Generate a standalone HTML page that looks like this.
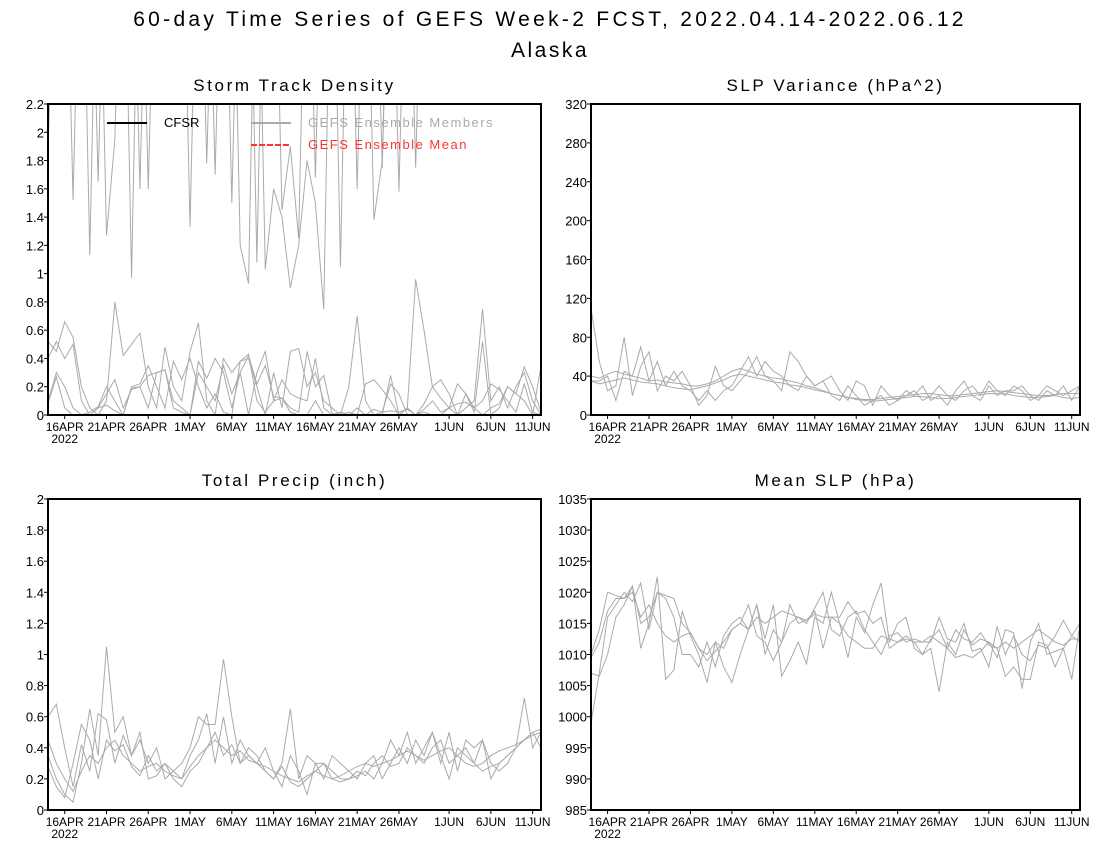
<!DOCTYPE html>
<html><head><meta charset="utf-8"><style>
body{margin:0;background:#fff;}
svg{display:block;font-family:"Liberation Sans",sans-serif;}
</style></head><body>
<svg id="chart" width="1100" height="850" xmlns="http://www.w3.org/2000/svg">
<text x="550" y="26" text-anchor="middle" font-size="21" letter-spacing="3.3">60-day Time Series of GEFS Week-2 FCST, 2022.04.14-2022.06.12</text>
<text x="550" y="57" text-anchor="middle" font-size="21" letter-spacing="2.5">Alaska</text>
</svg>
<script>
const dayLabels=["16APR","21APR","26APR","1MAY","6MAY","11MAY","16MAY","21MAY","26MAY","1JUN","6JUN","11JUN"];
const dayIdx=[2,7,12,17,22,27,32,37,42,48,53,58];
const stormTicks=[0,0.2,0.4,0.6,0.8,1,1.2,1.4,1.6,1.8,2,2.2];
const slpVarTicks=[0,40,80,120,160,200,240,280,320];
const precipTicks=[0,0.2,0.4,0.6,0.8,1,1.2,1.4,1.6,1.8,2];
const slpTicks=[985,990,995,1000,1005,1010,1015,1020,1025,1030,1035];
const storm1=[0.52,0.45,0.66,0.55,0.2,0.05,0,0.1,0.8,0.42,0.5,0.58,0.2,0.05,0.48,0.2,0.1,0.45,0.65,0.1,0,0.4,0.3,0.38,0.4,0.2,0,0.3,0.05,0.45,0.47,0.2,0.3,0.1,0.05,0,0.2,0.7,0.1,0,0,0.28,0,0.05,0.96,0.6,0.2,0.25,0.15,0,0.05,0.1,0.75,0.1,0.2,0.05,0.2,0.3,0.1,0];
const storm2=[0.08,0.27,0.05,0,0,0,0.05,0.07,0.03,0,0.2,0.22,0.35,0.2,0.05,0.38,0.25,0.4,0.2,0.05,0.15,0.02,0,0.38,0.43,0.1,0.02,0.1,0.12,0.02,0,0,0.1,0,0,0.02,0,0,0,0.04,0.02,0.03,0.02,0.04,0,0.02,0,0,0.05,0.08,0.09,0.05,0,0.05,0.08,0.2,0.15,0.1,0,0.35];
const storm3=[0.4,0.52,0.4,0.5,0.1,0,0.05,0.15,0.25,0.05,0.18,0.2,0.05,0.3,0.32,0.1,0.05,0,0.3,0.2,0.1,0.35,0.15,0.3,0,0.3,0.45,0.1,0.25,0.15,0.12,0.1,0.4,0.05,0,0.02,0,0.05,0,0,0.02,0.22,0.15,0,0,0.04,0.1,0.02,0.05,0,0.15,0.02,0.52,0,0.05,0.2,0.15,0.34,0.2,0.02];
const storm4=[0.1,0.3,0.2,0.05,0,0.02,0.06,0.2,0.1,0,0.19,0.2,0.28,0.3,0.32,0.05,0.02,0,0.38,0.26,0.4,0.3,0.05,0.3,0.42,0.22,0.35,0.13,0.12,0.05,0.02,0.45,0.2,0.28,0.01,0,0.02,0,0.22,0.25,0.18,0.1,0,0.05,0,0.08,0.2,0.12,0.05,0.22,0.15,0.05,0.1,0.22,0.18,0.1,0.02,0.22,0.02,0];
const storm5=[1.85,4,4,1.52,4,1.13,4,1.27,1.95,4,0.97,4,1.6,4,4,4,4,1.33,4,1.78,4,4,4,1.2,0.93,4,1.03,1.6,1.4,0.9,1.2,1.8,1.5,0.75,4,1.05,4,1.6,4,1.38,1.8,4,1.58,4,1.75,4,4,4,4,4,4,4,4,4,4,4,4,4,4,4];
const storm6=[4,4,4,4,4,4,1.65,4,4,4,4,1.6,4,4,4,4,4,4,4,4,1.7,4,1.5,4,4,1.08,4,4,1.45,1.9,1.25,4,1.68,4,4,4,4,4,4,4,1.75,4,4,4,4,4,4,4,4,4,4,4,4,4,4,4,4,4,4,4];
const var1=[110,55,25,30,80,20,50,65,25,40,35,45,30,10,20,50,30,25,35,45,60,40,35,25,65,55,40,30,35,40,25,15,35,30,10,30,20,15,25,20,30,15,20,10,25,35,20,15,30,20,25,25,30,20,15,25,20,30,15,30];
const var2=[35,35,40,15,45,40,70,35,55,30,45,30,25,15,25,15,25,30,45,60,40,55,45,40,30,25,40,30,35,20,15,30,20,10,15,20,10,15,20,25,15,20,30,20,15,25,30,20,35,25,20,30,25,15,20,30,25,20,25,30];
const var3=[40,38,42,45,42,40,38,35,36,34,33,32,30,30,32,35,40,45,48,45,42,40,38,37,35,33,30,28,25,22,20,18,17,16,16,17,18,19,20,21,22,22,21,20,20,21,22,23,24,25,24,23,22,21,20,20,21,22,22,22];
const var4=[35,32,34,36,38,36,34,33,32,30,28,27,26,28,30,33,36,40,42,40,38,36,34,33,31,30,28,26,24,22,20,18,16,15,14,15,16,17,18,19,19,18,17,17,18,19,20,21,22,22,22,20,19,18,18,19,20,18,17,18];
const pr1=[0.35,0.2,0.1,0.05,0.3,0.65,0.35,1.05,0.5,0.6,0.35,0.45,0.3,0.4,0.2,0.25,0.3,0.4,0.6,0.55,0.55,0.97,0.6,0.3,0.4,0.35,0.25,0.2,0.3,0.65,0.2,0.35,0.3,0.3,0.25,0.2,0.2,0.22,0.25,0.2,0.3,0.45,0.35,0.5,0.3,0.4,0.5,0.35,0.2,0.4,0.35,0.3,0.45,0.2,0.3,0.35,0.4,0.72,0.4,0.5];
const pr2=[0.6,0.68,0.4,0.15,0.42,0.25,0.62,0.58,0.3,0.48,0.35,0.5,0.2,0.22,0.3,0.25,0.2,0.35,0.45,0.62,0.3,0.6,0.3,0.45,0.35,0.3,0.4,0.25,0.15,0.35,0.25,0.1,0.3,0.2,0.35,0.3,0.25,0.2,0.3,0.35,0.2,0.3,0.4,0.3,0.45,0.35,0.5,0.3,0.5,0.25,0.45,0.4,0.45,0.3,0.25,0.3,0.4,0.45,0.5,0.4];
const pr3=[0.28,0.15,0.08,0.3,0.55,0.45,0.2,0.45,0.38,0.42,0.28,0.22,0.35,0.25,0.3,0.2,0.15,0.25,0.3,0.4,0.5,0.35,0.42,0.3,0.35,0.3,0.25,0.2,0.28,0.18,0.15,0.2,0.25,0.3,0.2,0.18,0.2,0.25,0.22,0.3,0.35,0.28,0.3,0.4,0.35,0.3,0.4,0.45,0.3,0.35,0.4,0.3,0.25,0.28,0.3,0.35,0.4,0.45,0.5,0.52];
const pr4=[0.45,0.3,0.2,0.12,0.25,0.35,0.3,0.4,0.45,0.35,0.3,0.25,0.28,0.3,0.25,0.22,0.2,0.28,0.35,0.4,0.45,0.4,0.35,0.38,0.32,0.3,0.28,0.25,0.22,0.2,0.18,0.22,0.25,0.22,0.2,0.22,0.25,0.28,0.3,0.28,0.3,0.32,0.35,0.38,0.35,0.32,0.35,0.38,0.4,0.35,0.3,0.28,0.3,0.35,0.38,0.4,0.42,0.45,0.48,0.5];
const slp1=[1007,1006.5,1010,1016,1018,1021,1011,1015,1022.5,1006,1007.5,1017,1013,1010,1005.5,1012,1008,1005.5,1010,1014,1018,1012.5,1018,1006.5,1009,1012,1008.5,1016,1015,1020,1015,1009.5,1016,1013.5,1018,1021.5,1012,1015,1016,1011,1010,1011,1004,1012,1010,1014,1011.5,1012.5,1012,1009.5,1014,1013.5,1004.5,1012,1015,1010,1010.5,1011,1006,1015];
const slp2=[999,1007,1016,1018,1020,1018.5,1021.5,1014,1020,1019,1016,1010,1010,1008,1012,1008,1013,1015,1016,1014,1018,1010,1014,1012,1018,1015,1015.5,1017,1011,1016,1016,1018.5,1016.5,1017,1015,1016,1011,1012,1013,1012,1010,1012.5,1014,1011,1014,1012.5,1012,1013.5,1011.5,1011,1006.5,1008,1006,1006,1012,1011.5,1008,1011,1013,1015];
const slp3=[1010,1014,1020,1019.5,1019,1021,1015,1016,1020,1019.5,1019,1015,1013.5,1011,1010,1012,1011,1014,1015,1018,1013,1012,1009,1012,1015,1016,1015,1017.5,1020,1014,1013,1016,1017,1014,1012,1010,1013,1013.5,1012,1012.5,1012,1012,1016,1012.5,1012,1015,1010.5,1011,1008,1014.5,1010,1013,1010,1009,1011.5,1011,1013,1015.5,1013,1012];
const slp4=[1009.5,1012,1017,1019,1019,1020,1016,1018,1015,1013,1012,1013,1013.5,1011,1009,1010.5,1012,1014,1015,1014,1016,1015,1016,1017,1016.5,1016,1015.5,1016.5,1016,1016,1015,1013,1012,1011,1011,1013,1012.5,1012,1012.5,1012,1012,1013,1012,1011,1009.5,1010,1009.5,1010.5,1012,1011,1012,1011,1012,1013,1014,1013,1012,1011.5,1012.5,1012.5];

const svg=document.getElementById('chart');
const NS='http://www.w3.org/2000/svg';
function mk(tag,attrs,parent){const e=document.createElementNS(NS,tag);for(const k in attrs)e.setAttribute(k,attrs[k]);(parent||svg).appendChild(e);return e;}
const panels=[
 {id:'storm',title:'Storm Track Density',L:48,R:541,T:104,B:415,min:0,max:2.2,ticks:stormTicks,series:[storm1,storm2,storm3,storm4,storm5,storm6],legend:true},
 {id:'slpvar',title:'SLP Variance (hPa^2)',L:591,R:1080,T:104,B:415,min:0,max:320,ticks:slpVarTicks,series:[var1,var2,var3,var4]},
 {id:'precip',title:'Total Precip (inch)',L:48,R:541,T:499,B:810,min:0,max:2,ticks:precipTicks,series:[pr1,pr2,pr3,pr4]},
 {id:'meanslp',title:'Mean SLP (hPa)',L:591,R:1080,T:499,B:810,min:985,max:1035,ticks:slpTicks,series:[slp1,slp2,slp3,slp4]}
];
panels.forEach(p=>{
 const g=mk('g',{});
 
 
 const xs=d=>p.L+d*(p.R-p.L)/59;
 const ys=v=>p.B-(v-p.min)/(p.max-p.min)*(p.B-p.T);
 const t=mk('text',{x:(p.L+p.R)/2,y:p.T-13,'text-anchor':'middle','font-size':17,'letter-spacing':2.6},g);
 t.textContent=p.title;
 
 
 const cp=mk('clipPath',{id:'clip-'+p.id},g);
 mk('rect',{x:p.L,y:p.T,width:p.R-p.L,height:p.B-p.T},cp);
 const lg=mk('g',{'clip-path':'url(#clip-'+p.id+')'},g);
 p.series.forEach((s,i)=>{
  const pl=mk('polyline',{points:s.map((v,d)=>xs(d)+','+ys(v)).join(' '),fill:'none',stroke:'#aaaaaa','stroke-width':1},lg);
  
  
 });
 const fr=mk('rect',{x:p.L,y:p.T,width:p.R-p.L,height:p.B-p.T,fill:'none',stroke:'#000','stroke-width':2},g);
 
 
 p.ticks.forEach(v=>{
  const y=ys(v);
  mk('line',{x1:p.L-4,x2:p.L,y1:y,y2:y,stroke:'#000'},g);
  const tl=mk('text',{x:p.L-4,y:y+5,'text-anchor':'end','font-size':13},g);
  tl.textContent=v;
  
  
 });
 dayIdx.forEach((d,i)=>{
  const x=xs(d);
  mk('line',{x1:x,x2:x,y1:p.B,y2:p.B+4,stroke:'#000'},g);
  const tl=mk('text',{x:x,y:p.B+16,'text-anchor':'middle','font-size':12},g);
  tl.textContent=dayLabels[i];
  
  
 });
 const yr=mk('text',{x:xs(2),y:p.B+28,'text-anchor':'middle','font-size':12},g);
 yr.textContent='2022';
 
 
 if(p.legend){
  const lgd=mk('g',{},g);
  
  
  mk('line',{x1:107,x2:147,y1:123,y2:123,stroke:'#000','stroke-width':2},lgd);
  const a=mk('text',{x:164,y:127,'font-size':13},lgd);a.textContent='CFSR';
  
  
  mk('line',{x1:251,x2:291,y1:123,y2:123,stroke:'#aaa','stroke-width':2},lgd);
  const b=mk('text',{x:308,y:127,'font-size':13,fill:'#aaa','letter-spacing':1.5},lgd);b.textContent='GEFS Ensemble Members';
  
  
  mk('line',{x1:251,x2:291,y1:145,y2:145,stroke:'#ff3333','stroke-width':2,'stroke-dasharray':'6,2'},lgd);
  const c=mk('text',{x:308,y:149,'font-size':13,fill:'#ff3333','letter-spacing':1.5},lgd);c.textContent='GEFS Ensemble Mean';
  
  
 }
});
</script>
</body></html>
